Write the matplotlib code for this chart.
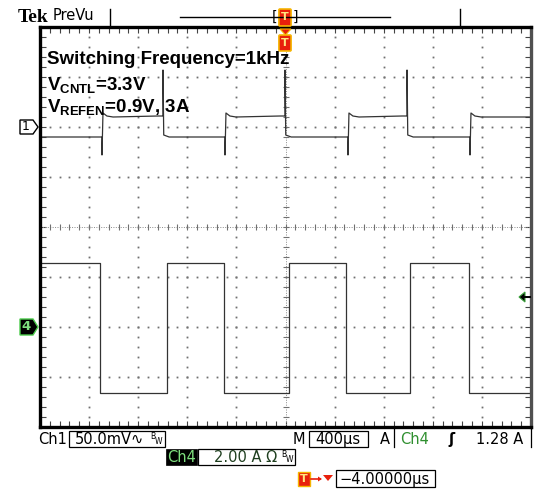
import numpy as np
import matplotlib
matplotlib.use("Agg")
import matplotlib.pyplot as plt
from matplotlib.patches import Polygon, Rectangle, FancyBboxPatch

plt.rcParams["font.family"] = ["DejaVu Sans"]
plt.rcParams["mathtext.fontset"] = "custom"
plt.rcParams["mathtext.bf"] = "Liberation Sans:bold"
plt.rcParams["mathtext.rm"] = "Liberation Sans"

# ---- scope settings -------------------------------------------------------
TIME_PER_DIV_US = 400.0
CH1_MV_PER_DIV = 50.0
CH4_A_PER_DIV = 2.0
CH1_OFFSET_DIV = 2.0
CH4_OFFSET_DIV = -2.0

# ---- channel 1 (control voltage, mV) --------------------------------------
ch1_rise_us = [-1495, -493, 509, 1503]
ch1_fall_us = [-998, -4, 990]
ch1_high_mv = 10.0
ch1_low_mv = -10.0
ch1_dip_mv = -28.0       # spike at rising edges
ch1_peak_mv = 57.0       # spike at falling edges
ch1_overshoot_mv = 4.0

# ---- channel 4 (current, A) -----------------------------------------------
ch4_rise_us = [-965, 28, 1014]
ch4_fall_us = [-1511, -501, 493, 1495]
ch4_high_a = 2.56
ch4_low_a = -2.64


def to_div_t(t):
    return np.asarray(t) / TIME_PER_DIV_US + 5.0


def ch1_trace():
    edges = sorted([(t, "r") for t in ch1_rise_us] + [(t, "f") for t in ch1_fall_us])
    t, v = [-2000], [ch1_low_mv]
    for e, kind in edges:
        if kind == "r":
            t += [e, e, e + 8, e + 40, e + 90]
            v += [ch1_low_mv, ch1_dip_mv, ch1_high_mv + ch1_overshoot_mv,
                  ch1_high_mv + 1, ch1_high_mv]
        else:
            t += [e - 40, e, e, e + 6, e + 50]
            v += [ch1_high_mv + 1, ch1_high_mv + 1, ch1_peak_mv,
                  ch1_low_mv + 2, ch1_low_mv]
    t.append(2000)
    v.append(v[-1])
    return to_div_t(t), np.array(v) / CH1_MV_PER_DIV + CH1_OFFSET_DIV


def ch4_trace():
    edges = sorted([(t, "r") for t in ch4_rise_us] + [(t, "f") for t in ch4_fall_us])
    t, v = [-2000], [ch4_high_a]
    for e, kind in edges:
        if kind == "r":
            t += [e, e]
            v += [ch4_low_a, ch4_high_a]
        else:
            t += [e, e]
            v += [ch4_high_a, ch4_low_a]
    t.append(2000)
    v.append(v[-1])
    return to_div_t(t), np.array(v) / CH4_A_PER_DIV + CH4_OFFSET_DIV


W, H = 537, 490


def fx(x):
    return x / W


def fy(y):
    return 1 - y / H


def poly(fig, pts, **kw):
    p = Polygon([(fx(x), fy(y)) for x, y in pts], closed=True,
                transform=fig.transFigure, **kw)
    fig.add_artist(p)


def box(fig, x0, y0, x1, y1, **kw):
    r = Rectangle((fx(x0), fy(y1)), fx(x1) - fx(x0), fy(y0) - fy(y1),
                  transform=fig.transFigure, **kw)
    fig.add_artist(r)


def hline(fig, x0, x1, y, **kw):
    fig.add_artist(plt.Line2D([fx(x0), fx(x1)], [fy(y), fy(y)],
                              transform=fig.transFigure, **kw))


def vline(fig, x, y0, y1, **kw):
    fig.add_artist(plt.Line2D([fx(x), fx(x)], [fy(y0), fy(y1)],
                              transform=fig.transFigure, **kw))


def trig_mark(fig, x, y0, y1):
    p = FancyBboxPatch((fx(x - 5), fy(y1)), fx(10), fy(y0) - fy(y1),
                       boxstyle="round,pad=0.002", transform=fig.transFigure,
                       facecolor="#e8200c", edgecolor="#f5b400", linewidth=1.2)
    fig.add_artist(p)
    fig.text(fx(x), fy((y0 + y1) / 2), "T", color="#ffe680", fontsize=8,
             fontweight="bold", ha="center", va="center")


fig = plt.figure(figsize=(W / 100, H / 100), dpi=100)
ax = fig.add_axes([fx(40), fy(427), fx(531) - fx(40), fy(27) - fy(427)])
ax.set_xlim(0, 10)
ax.set_ylim(-4, 4)

# graticule dots
grid_col = "#707070"
xs = np.arange(0, 10.001, 0.2)
ys = np.arange(-4, 4.001, 0.2)
for k in range(1, 10):
    if k != 5:
        ax.plot(np.full(ys.size, k), ys, ls="none", marker="s", ms=1.3,
                color=grid_col, mew=0)
for k in range(-3, 4):
    if k != 0:
        ax.plot(xs, np.full(xs.size, k), ls="none", marker="s", ms=1.3,
                color=grid_col, mew=0)
# centre cross with minor ticks
ax.axhline(0, color="#8a8a8a", lw=0.7, ls=(0, (1, 1.5)))
ax.axvline(5, color="#8a8a8a", lw=0.7, ls=(0, (1, 1.5)))
ax.plot(xs, np.zeros_like(xs), ls="none", marker="|", ms=4, color=grid_col, mew=0.8)
ax.plot(np.full(ys.size, 5), ys, ls="none", marker="_", ms=4, color=grid_col, mew=0.8)

# traces
t1, v1 = ch1_trace()
t4, v4 = ch4_trace()
ax.plot(t1, v1, color="#333333", lw=0.9)
ax.plot(t4, v4, color="#333333", lw=0.9)

# frame and edge ticks
ax.set_xticks(np.arange(0, 10.001, 0.2))
ax.set_yticks(np.arange(-4, 4.001, 0.2))
ax.tick_params(direction="in", length=4, width=0.8, color="#444444",
               top=True, right=True, labelbottom=False, labelleft=False)
for side in ["left", "top", "bottom"]:
    ax.spines[side].set_linewidth(2.4)
    ax.spines[side].set_color("black")
ax.spines["right"].set_linewidth(2.4)
ax.spines["right"].set_color("#505050")

# ---- header ---------------------------------------------------------------
fig.text(fx(18), fy(18), "Tek", family="Liberation Serif", fontweight="bold",
         fontsize=14, va="center")
fig.text(fx(53), fy(16), "PreVu", fontsize=10.5, va="center")
vline(fig, 110, 9, 26, color="black", lw=1)
hline(fig, 180, 390, 17, color="black", lw=1)
vline(fig, 460, 9, 26, color="black", lw=1)
fig.text(fx(272), fy(17), "[", fontsize=10, va="center")
fig.text(fx(293), fy(17), "]", fontsize=10, va="center")
trig_mark(fig, 285, 10, 25)
poly(fig, [(280, 29), (291, 29), (285.5, 35)], facecolor="#e8200c",
     edgecolor="#f5b400", lw=0.8)
trig_mark(fig, 285, 36, 50)

# annotation text
fig.text(fx(47), fy(60), "Switching Frequency=1kHz", family="Liberation Sans",
         fontweight="bold", fontsize=13.5, va="center")
fig.text(fx(47), fy(86), r"V$_{\mathbf{CNTL}}$=3.3V", family="Liberation Sans",
         fontweight="bold", fontsize=13.5, va="center")
fig.text(fx(47), fy(108), r"V$_{\mathbf{REFEN}}$=0.9V, 3A", family="Liberation Sans",
         fontweight="bold", fontsize=13.5, va="center")

# channel markers
poly(fig, [(20, 120), (33, 120), (38, 127), (33, 134), (20, 134)],
     facecolor="white", edgecolor="black", lw=1)
fig.text(fx(26), fy(127), "1", fontsize=9, ha="center", va="center")
poly(fig, [(20, 319), (33, 319), (38, 327), (33, 335), (20, 335)],
     facecolor="black", edgecolor="#4ccc4c", lw=1)
fig.text(fx(26.5), fy(327), "4", fontsize=9.5, ha="center", va="center",
         color="#7fe07f", fontweight="bold")

# trigger level arrow
poly(fig, [(519, 297), (525, 292), (525, 302)], facecolor="black",
     edgecolor="#3ca03c", lw=0.8)
hline(fig, 524, 530, 297, color="black", lw=1.4)

# ---- readouts -------------------------------------------------------------
fs = 10.5
fig.text(fx(38), fy(439), "Ch1", fontsize=fs, va="center")
box(fig, 69, 431, 165, 447, facecolor="none", edgecolor="black", lw=0.9)
fig.text(fx(75), fy(439), "50.0mV\u223f", fontsize=fs, va="center")
fig.text(fx(150), fy(436), "B", fontsize=5.5, va="center")
fig.text(fx(155), fy(441), "W", fontsize=5.5, va="center")

fig.text(fx(293), fy(439), "M", fontsize=fs, va="center")
box(fig, 309, 431, 368, 447, facecolor="none", edgecolor="black", lw=0.9)
fig.text(fx(315), fy(439), "400\u00b5s", fontsize=fs, va="center")
fig.text(fx(380), fy(439), "A", fontsize=fs, va="center")
vline(fig, 394, 428, 447, color="black", lw=0.9)
fig.text(fx(400), fy(439), "Ch4", fontsize=fs, va="center", color="#2f8f2f")
fig.text(fx(448), fy(439), "\u0283", fontsize=fs, va="center", fontweight="bold")
fig.text(fx(476), fy(439), "1.28 A", fontsize=fs, va="center")
vline(fig, 531, 428, 447, color="black", lw=0.9)

box(fig, 166, 449, 197, 465, facecolor="black", edgecolor="black", lw=0.5)
fig.text(fx(181.5), fy(457), "Ch4", fontsize=fs, va="center", ha="center",
         color="#7fe07f")
box(fig, 198, 449, 295, 465, facecolor="none", edgecolor="black", lw=0.9)
fig.text(fx(214), fy(457), "2.00 A \u03a9", fontsize=fs, va="center", color="#1f3f1f")
fig.text(fx(281), fy(454), "B", fontsize=5.5, va="center")
fig.text(fx(286), fy(459), "W", fontsize=5.5, va="center")

box(fig, 298, 472, 310, 486, facecolor="#e8200c", edgecolor="#f5b400", lw=1)
fig.text(fx(304), fy(479), "T", fontsize=8, color="#ffe680", ha="center",
         va="center", fontweight="bold")
hline(fig, 311, 320, 479, color="#e8200c", lw=1.2)
poly(fig, [(318, 476.5), (322, 479), (318, 481.5)], facecolor="#e8200c", lw=0)
poly(fig, [(323, 475), (333, 475), (328, 481)], facecolor="#e8200c", lw=0)
box(fig, 336, 470, 435, 487, facecolor="none", edgecolor="black", lw=0.9)
fig.text(fx(339), fy(479), "\u22124.00000\u00b5s", fontsize=fs, va="center")

fig.savefig("out.png", dpi=100)
